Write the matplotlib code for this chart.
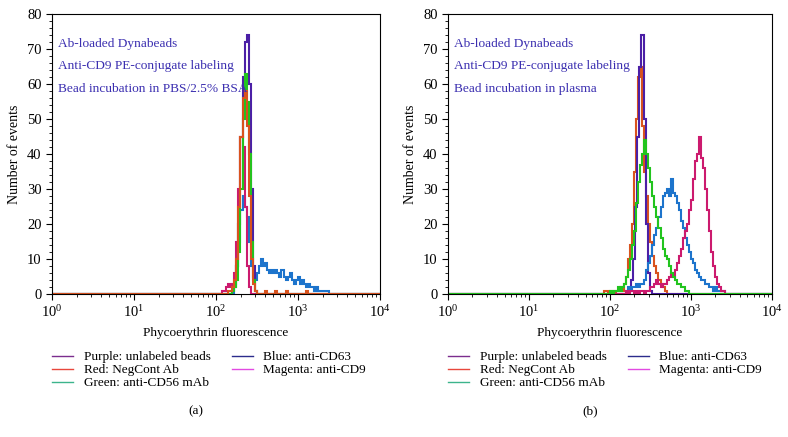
import numpy as np
import matplotlib
matplotlib.use('Agg')
import matplotlib.pyplot as plt
from matplotlib.lines import Line2D
from matplotlib.ticker import MultipleLocator, LogLocator

plt.rcParams['font.family'] = ['Liberation Serif', 'DejaVu Serif']
plt.rcParams['mathtext.fontset'] = 'stix'

# histogram bin width in log10 units; each series = (start log10, counts)
BIN = 0.025

# panel (a): bead incubation in PBS/2.5% BSA
purple_a = (2.2, [1, 3, 8, 20, 45, 62, 72, 74, 60, 30, 8, 1, 0])
blue_a = (2.2, [0, 2, 8, 15, 24, 28, 25, 22, 15, 8, 5, 4, 6, 8, 10, 8, 9, 7, 6, 7,
                6, 7, 6, 5, 7, 5, 4, 5, 6, 4, 3, 4, 5, 3, 4, 3, 2, 3, 2, 2,
                1, 2, 1, 1, 1, 1, 1, 0])
magenta_a = (2.05, [0, 1, 1, 2, 3, 2, 3, 6, 15, 30, 45, 42, 25, 8, 2, 0])
green_a = (2.175, [0, 1, 2, 4, 12, 30, 50, 63, 55, 40, 15, 4, 1, 0])
red_a = (2.125, [0, 1, 1, 2, 4, 10, 25, 45, 56, 58, 48, 28, 10, 3, 1, 0,
                 0, 0, 0, 1, 0, 0, 0, 0, 1, 0, 0, 0, 0, 1, 0, 0, 0, 0, 0, 0,
                 0, 0, 0, 1, 0])

# panel (b): bead incubation in plasma
red_b = (1.925, [1, 1, 0, 1, 1, 0, 1, 1, 2, 1, 3, 5, 10, 14, 20, 35, 50, 62, 65, 48,
                 35, 28, 20, 15, 11, 8, 6, 4, 3, 2, 1, 0])
purple_b = (2.24, [1, 4, 10, 25, 45, 65, 74, 50, 20, 6, 1, 0])
blue_b = (2.2, [1, 2, 1, 2, 2, 3, 2, 3, 3, 4, 7, 9, 11, 14, 17, 19, 22, 25, 28, 29,
                30, 28, 33, 29, 28, 26, 24, 21, 19, 16, 14, 12, 10, 9, 7, 6, 5, 4, 4, 3,
                3, 2, 2, 1, 2, 1, 1, 1, 1, 0])
magenta_b = (2.2, [1, 0, 1, 1, 0, 1, 0, 1, 1, 0, 1, 1, 2, 2, 3, 4, 3, 2, 3, 3,
                   4, 5, 6, 5, 7, 9, 11, 13, 16, 18, 20, 24, 27, 33, 38, 40, 45, 39, 36, 30,
                   24, 18, 12, 8, 5, 3, 2, 1, 1, 0])
green_b = (2.0, [1, 0, 1, 1, 2, 1, 2, 3, 5, 7, 10, 14, 18, 26, 32, 37, 40, 44, 40, 36,
                 32, 28, 25, 22, 19, 16, 13, 11, 10, 8, 6, 5, 4, 3, 3, 2, 2, 1, 1, 0])

c_purple = '#4b1fa6'
c_red = '#d9531e'
c_green = '#22c41e'
c_blue = '#1d74cc'
c_magenta = '#cc1a6e'
c_text = '#3b2fb0'

legend_names = ['Purple: unlabeled beads', 'Red: NegCont Ab', 'Green: anti-CD56 mAb',
                'Blue: anti-CD63', 'Magenta: anti-CD9']
legend_colors = ['#7b2d8e', '#e8473c', '#3cb48c', '#2c2c8c', '#e24ae2']


def draw_hist(ax, series, color):
    start, counts = series
    n = len(counts)
    edges = 10 ** (start + BIN * np.arange(n + 1))
    edges = np.concatenate([[1.0], edges, [1e4]])
    vals = np.concatenate([[0], counts, [0]])
    ax.stairs(vals, edges, color=color, lw=1.5, baseline=None)


def style(ax, notes, tag):
    ax.set_xscale('log')
    ax.set_xlim(1, 1e4)
    ax.set_ylim(0, 80)
    ax.yaxis.set_major_locator(MultipleLocator(10))
    ax.yaxis.set_minor_locator(MultipleLocator(2))
    ax.xaxis.set_major_locator(LogLocator(base=10, numticks=10))
    ax.xaxis.set_minor_locator(LogLocator(base=10, subs=np.arange(2, 10), numticks=20))
    ax.tick_params(which='major', direction='out', length=4, labelsize=10.5)
    ax.tick_params(which='minor', direction='out', length=2.5)
    ax.set_xlabel('Phycoerythrin fluorescence', fontsize=9.5, labelpad=5)
    ax.set_ylabel('Number of events', fontsize=10)
    for i, s in enumerate(notes):
        ax.text(0.018, 0.893 - i * 0.08, s, transform=ax.transAxes, color=c_text,
                fontsize=9.6, va='center')
    handles = [Line2D([], [], color=c, lw=1.0) for c in legend_colors]
    ax.legend(handles, legend_names, ncol=2, loc='upper left',
              bbox_to_anchor=(-0.02, -0.18), frameon=False, fontsize=9.5,
              handlelength=1.6, handletextpad=0.8, columnspacing=1.6,
              labelspacing=0.05, borderpad=0)
    ax.text(0.44, -0.42, tag, transform=ax.transAxes, ha='center', va='center',
            fontsize=9.5)


fig = plt.figure(figsize=(7.88, 4.37), dpi=100)
ax1 = fig.add_axes([0.066, 0.327, 0.416, 0.641])
ax2 = fig.add_axes([0.5685, 0.327, 0.411, 0.641])

for s, c in [(blue_a, c_blue), (purple_a, c_purple), (magenta_a, c_magenta),
             (green_a, c_green), (red_a, c_red)]:
    draw_hist(ax1, s, c)
style(ax1, ['Ab-loaded Dynabeads', 'Anti-CD9 PE-conjugate labeling',
            'Bead incubation in PBS/2.5% BSA'], '(a)')

for s, c in [(red_b, c_red), (purple_b, c_purple), (blue_b, c_blue),
             (magenta_b, c_magenta), (green_b, c_green)]:
    draw_hist(ax2, s, c)
style(ax2, ['Ab-loaded Dynabeads', 'Anti-CD9 PE-conjugate labeling',
            'Bead incubation in plasma'], '(b)')

fig.savefig('out.png', dpi=100)
